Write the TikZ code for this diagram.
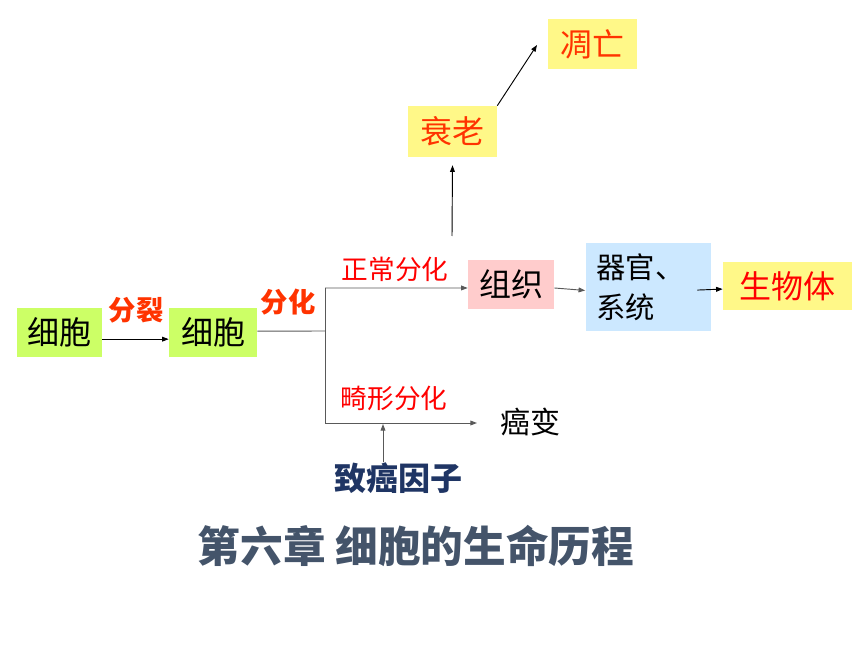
\documentclass[tikz,border=0pt]{standalone}
\usepackage{fontspec}
\setmainfont{Noto Sans CJK SC}
\usepackage{xcolor}
\usepackage{tikz}
\usetikzlibrary{arrows.meta,positioning,calc}

\definecolor{cellgreen}{HTML}{CCFF66}
\definecolor{tissuepink}{HTML}{FFCCCC}
\definecolor{organblue}{HTML}{CCE8FF}
\definecolor{lifeyellow}{HTML}{FFF888}
\definecolor{procred}{HTML}{FF3300}
\definecolor{titleslate}{HTML}{44546A}
\definecolor{agentnavy}{HTML}{1F3564}

\begin{document}
\begin{tikzpicture}[
  x=0.75pt, y=-0.75pt,
  box/.style={inner sep=0pt, align=left, font=\fontsize{24}{28}\selectfont},
  lbl/.style={inner sep=0pt, font=\fontsize{20}{24}\selectfont},
  link/.style={draw=gray!70!black, line width=0.7pt},
  arr/.style={draw=black, line width=0.7pt, -{Triangle[length=5pt,width=3.6pt]}}
]
  \useasboundingbox (0,0) rectangle (860,645);
  % boxes
  \node[box, fill=cellgreen, minimum width=85*0.75pt, minimum height=49*0.75pt] (cellA) at (59.5,332.5) {细胞};
  \node[box, fill=cellgreen, minimum width=88*0.75pt, minimum height=49*0.75pt] (cellB) at (213,332.5) {细胞};
  \node[box, fill=tissuepink, minimum width=86*0.75pt, minimum height=49*0.75pt] (tissue) at (511,284.5) {组织};
  \node[box, fill=organblue, inner xsep=11*0.75pt, text width=103*0.75pt, minimum height=88*0.75pt,
        font=\fontsize{22}{30}\selectfont] (organ) at (648,287) {器官、\\系统};
  \node[box, fill=lifeyellow, minimum width=129*0.75pt, minimum height=48*0.75pt, text=red] (body) at (787.5,286) {生物体};
  \node[box, fill=lifeyellow, minimum width=89*0.75pt, minimum height=51*0.75pt, text=procred] (aging) at (452.5,131.5) {衰老};
  \node[box, fill=lifeyellow, minimum width=89*0.75pt, minimum height=50*0.75pt, text=procred] (death) at (592.5,44) {凋亡};
  \node[box, font=\fontsize{22.5}{26}\selectfont] (cancer) at (530,422) {癌变};
  \node[box, text=agentnavy, font=\fontsize{24}{28}\selectfont\bfseries] (agent) at (398,478) {致癌因子};
  % labels
  \node[lbl, text=procred, font=\fontsize{20.5}{24}\selectfont\bfseries] (split) at (136,310) {分裂};
  \node[lbl, text=procred, font=\fontsize{20.5}{24}\selectfont\bfseries] (diff) at (288,302) {分化};
  \node[lbl, text=red] (normal) at (395,269) {正常分化};
  \node[lbl, text=red] (abnormal) at (394,398) {畸形分化};
  \node[inner sep=0pt, text=titleslate, font=\fontsize{32}{36}\selectfont\bfseries] (title) at (416,546) {第六章 细胞的生命历程};
  % branch points
  \coordinate (fork) at (325,331);
  \coordinate (up) at (325,288);
  \coordinate (down) at (325,423);
  \coordinate (downend) at (477,423);
  \coordinate (hit) at (383,424);
  \coordinate (agetail) at (452,236);
  \coordinate (deathtip) at (537,45);
  % connectors
  \draw[arr] ([yshift=-5pt]cellA.east) -- ([yshift=-5pt]cellB.west);
  \draw[link] ([yshift=1pt]cellB.east) -- (fork);
  \draw[link] (up) -- (down);
  \draw[arr, draw=gray!70!black] (up) -- ([yshift=-2.6pt]tissue.west);
  \draw[arr, draw=gray!70!black] ([yshift=-2.6pt]tissue.east) -- ([yshift=-2.6pt]organ.west);
  \draw[arr] ([xshift=-10pt,yshift=-2.3pt]organ.east) -- ([yshift=-2.3pt]body.west);
  \draw[arr, draw=gray!70!black] (down) -- (downend);
  \draw[arr, draw=gray!70!black] (agent.north -| hit) -- (hit);
  \draw[arr] (agetail) -- ([yshift=-6pt]aging.south);
  \draw[arr] (aging.north east) -- (deathtip);
\end{tikzpicture}
\end{document}
